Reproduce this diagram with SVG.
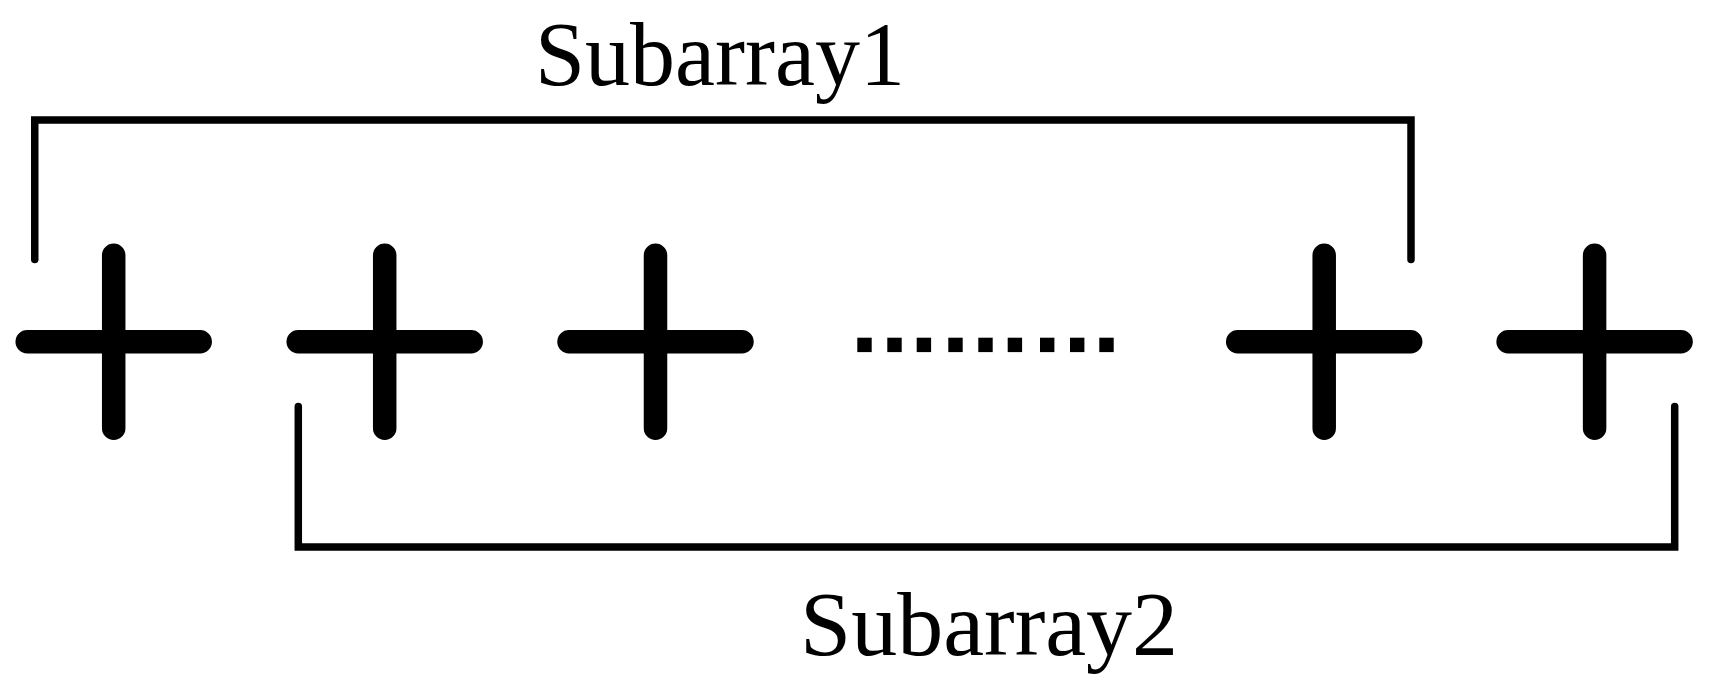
<svg xmlns="http://www.w3.org/2000/svg" width="1716" height="694" viewBox="0 0 1716 694">
<style>
.bg{fill:#fff}
.cross{stroke:#000;stroke-width:23.5;stroke-linecap:round;fill:none}
.br{stroke:#000;stroke-width:7.5;stroke-linecap:round;stroke-linejoin:miter;fill:none}
.dot{fill:#000}
.lbl{font-family:"Liberation Serif","Times New Roman",serif;font-size:92px;fill:#000}
</style>
<defs>
<path id="plus" class="cross" d="M-86.5 0H86.5M0 -86.5V86.5"/>
</defs>
<rect class="bg" x="0" y="0" width="1716" height="694"/>
<g id="connectors">
<path id="bracket1" class="br" d="M34.75 259.5V120H1411V259.5"/>
<path id="bracket2" class="br" d="M298.3 406.5V547H1674.7V406.5"/>
</g>
<g id="element1"><use href="#plus" x="113.7" y="341.8"/></g>
<g id="element2"><use href="#plus" x="384.7" y="341.8"/></g>
<g id="element3"><use href="#plus" x="655.5" y="341.8"/></g>
<g id="ellipsis">
<rect class="dot" x="857.3" y="337.7" width="14.4" height="14.4"/>
<rect class="dot" x="887.3" y="337.7" width="14.4" height="14.4"/>
<rect class="dot" x="916.7" y="337.7" width="14.4" height="14.4"/>
<rect class="dot" x="948.3" y="337.7" width="14.4" height="14.4"/>
<rect class="dot" x="978.3" y="337.7" width="14.4" height="14.4"/>
<rect class="dot" x="1007.7" y="337.7" width="14.4" height="14.4"/>
<rect class="dot" x="1040" y="337.7" width="14.4" height="14.4"/>
<rect class="dot" x="1070" y="337.7" width="14.4" height="14.4"/>
<rect class="dot" x="1099.3" y="337.7" width="14.4" height="14.4"/>
</g>
<g id="element4"><use href="#plus" x="1324.2" y="341.8"/></g>
<g id="element5"><use href="#plus" x="1594.6" y="341.8"/></g>
<g id="label1"><text class="lbl" x="535" y="85" style="font-size:90px">Subarray1</text></g>
<g id="label2"><text class="lbl" x="800" y="655">Subarray2</text></g>
</svg>
